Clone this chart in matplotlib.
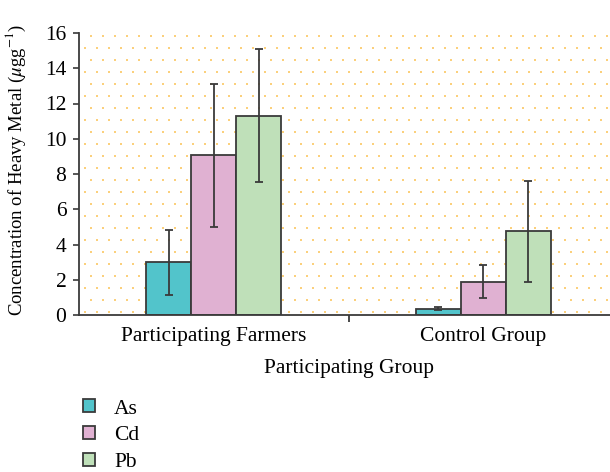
import numpy as np
import matplotlib
matplotlib.use('Agg')
import matplotlib.pyplot as plt

groups = ['Participating Farmers', 'Control Group']
metals = ['As', 'Cd', 'Pb']
means = {
    'As': [3.0, 0.35],
    'Cd': [9.05, 1.9],
    'Pb': [11.3, 4.75],
}
errs = {
    'As': [1.85, 0.08],
    'Cd': [4.05, 0.95],
    'Pb': [3.78, 2.85],
}
colors = {'As': '#52c4cb', 'Cd': '#e0b1d2', 'Pb': '#bfe0b9'}

plt.rcParams['font.family'] = ['Liberation Serif', 'DejaVu Serif']
plt.rcParams['mathtext.fontset'] = 'stix'

fs = 15.5
fig = plt.figure(figsize=(6.10, 4.72), dpi=100)
ax = fig.add_axes([79 / 610, 1 - 315 / 472, 539 / 610, 282 / 472])

# dotted background (decoration, staggered grid in axes coords)
gx, gy = 12 / 539, 12 / 282
px, py = np.meshgrid(np.arange(gx / 2, 1, gx), np.arange(gy / 4, 1, gy))
px[1::2] += gx / 2
ax.scatter(px.ravel(), py.ravel(), s=1.4, marker='s', color='#fbd07c',
           linewidths=0, transform=ax.transAxes, zorder=0, clip_on=True)

x = np.arange(len(groups))
w = 0.167
for i, m in enumerate(metals):
    ax.bar(x + (i - 1) * w, means[m], w, color=colors[m], edgecolor='#3a3a3a',
           linewidth=1.3, label=m, zorder=2,
           yerr=errs[m], error_kw=dict(ecolor='#3a3a3a', elinewidth=1.3,
                                       capsize=3, capthick=1.3))

ax.set_xlim(-0.5, 1.5)
ax.set_ylim(0, 16)
ax.set_yticks(range(0, 17, 2))
ax.set_xticks(x)
ax.set_xticklabels(groups)
ax.set_xticks([0.5], minor=True)
ax.tick_params(axis='x', which='major', length=0, pad=9, labelsize=fs)
ax.tick_params(axis='x', which='minor', length=5, width=1.3, color='#3a3a3a')
ax.tick_params(axis='y', length=4, width=1.2, color='#3a3a3a', labelsize=fs, pad=5)
for s in ['top', 'right']:
    ax.spines[s].set_visible(False)
for s in ['left', 'bottom']:
    ax.spines[s].set_color('#3a3a3a')
    ax.spines[s].set_linewidth(1.3)

ax.set_xlabel('Participating Group', fontsize=fs, labelpad=9)
ax.set_ylabel(r'Concentration of Heavy Metal ($\mu$gg$^{-1}$)', fontsize=13.5)
ax.yaxis.set_label_coords(-0.095, 0.515)

fig.legend(loc='upper left', bbox_to_anchor=(0.122, 0.172), frameon=False,
           fontsize=fs, handlelength=0.55, handleheight=0.55, handletextpad=0.9,
           labelspacing=0.36, borderaxespad=0)

fig.savefig('out.png', dpi=100)
